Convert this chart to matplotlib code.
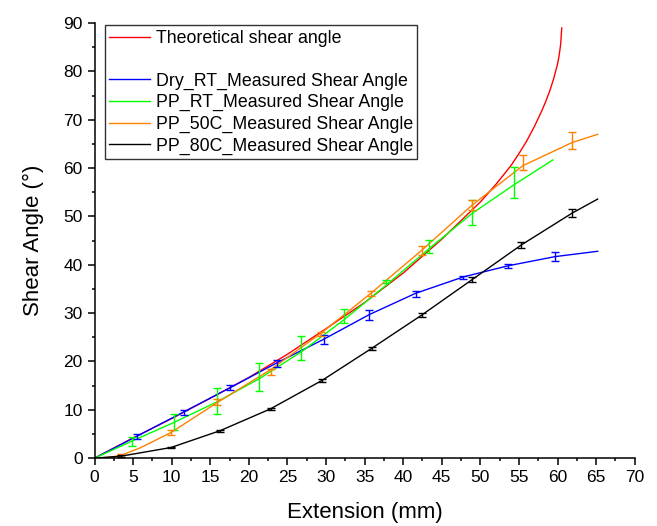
import matplotlib

matplotlib.use("Agg")
import matplotlib.pyplot as plt
from matplotlib.lines import Line2D
from matplotlib.ticker import MultipleLocator

plt.rcParams["font.family"] = ["Liberation Sans", "DejaVu Sans"]

# theoretical shear angle (red)
theo_x = [0, 5, 10, 15, 20, 25, 30, 35, 40, 45, 50, 52, 54, 55, 56, 57, 58, 58.5, 59, 59.5, 60, 60.2, 60.4, 60.55]
theo_y = [0, 4.2, 8.2, 12.4, 16.7, 21.5, 26.8, 32.2, 38.3, 45.3, 53.0, 56.6, 60.6, 63.0, 65.6, 68.6, 72.0, 73.9, 76.0, 78.5, 81.5, 83.2, 85.5, 89.0]

# Dry_RT (blue)
dry_x = [0, 5.5, 11.6, 17.6, 23.6, 29.7, 35.6, 41.6, 47.8, 53.6, 59.7, 65.2]
dry_y = [0, 4.55, 9.6, 14.6, 19.7, 24.6, 29.7, 34.1, 37.5, 39.8, 41.7, 42.8]
dry_ex = [5.5, 11.6, 17.6, 23.6, 29.7, 35.6, 41.6, 47.8, 53.6, 59.7]
dry_ey = [4.55, 9.4, 14.6, 19.6, 24.6, 29.6, 34.0, 37.4, 39.8, 41.7]
dry_err = [0.5, 0.5, 0.6, 0.7, 0.9, 1.0, 0.6, 0.3, 0.4, 1.0]

# PP_RT (green)
rt_x = [0, 4.8, 10.3, 15.8, 21.3, 26.8, 32.3, 37.8, 43.4, 48.9, 54.4, 59.4]
rt_y = [0, 3.5, 7.4, 11.6, 16.4, 22.0, 28.6, 35.8, 43.4, 50.6, 56.6, 61.7]
rt_ex = [4.8, 10.3, 15.8, 21.3, 26.8, 32.3, 37.8, 43.4, 48.9, 54.4]
rt_ey = [3.4, 7.5, 11.8, 16.8, 22.8, 29.4, 36.5, 43.8, 50.8, 57.0]
rt_err = [0.9, 1.7, 2.7, 2.9, 2.4, 1.5, 0.3, 1.4, 2.6, 3.2]

# PP_50C (orange)
c50_x = [0, 2.0, 3.4, 6.0, 9.9, 15.9, 22.8, 29.3, 35.8, 42.4, 48.9, 55.5, 61.9, 65.2]
c50_y = [0, 0.2, 0.55, 2.2, 5.3, 11.5, 18.3, 25.8, 34.1, 43.0, 52.3, 60.5, 65.3, 67.0]
c50_ex = [3.4, 9.9, 15.9, 22.8, 29.3, 35.8, 42.4, 48.9, 55.5, 61.9]
c50_ey = [0.55, 5.3, 11.6, 17.8, 25.7, 34.0, 43.0, 52.4, 61.2, 65.7]
c50_err = [0.3, 0.5, 0.6, 0.6, 0.5, 0.5, 0.9, 1.0, 1.5, 1.7]

# PP_80C (black)
c80_x = [0, 3.4, 9.9, 16.3, 22.8, 29.5, 35.9, 42.4, 48.9, 55.3, 61.9, 65.2]
c80_y = [0, 0.4, 2.2, 5.7, 10.2, 16.1, 22.7, 29.6, 36.9, 44.1, 50.7, 53.6]
c80_err = [0.2, 0.2, 0.2, 0.2, 0.3, 0.3, 0.4, 0.5, 0.7, 0.85]

fig = plt.figure(figsize=(6.57, 5.26), dpi=100)
ax = fig.add_axes([0.144, 0.129, 0.822, 0.827])

lw = 1.0
h_theo, = ax.plot(theo_x, theo_y, color="#ff0000", lw=lw, label="Theoretical shear angle")
h_dry, = ax.plot(dry_x, dry_y, color="#0000ff", lw=lw, label="Dry_RT_Measured Shear Angle")
h_rt, = ax.plot(rt_x, rt_y, color="#00ff00", lw=lw, label="PP_RT_Measured Shear Angle")
h_50, = ax.plot(c50_x, c50_y, color="#ff8000", lw=lw, label="PP_50C_Measured Shear Angle")
h_80, = ax.plot(c80_x, c80_y, color="black", lw=lw, label="PP_80C_Measured Shear Angle")

eb = dict(fmt="none", elinewidth=1.0, capsize=3, capthick=1.0)
ax.errorbar(dry_ex, dry_ey, yerr=dry_err, ecolor="#0000ff", **eb)
ax.errorbar(rt_ex, rt_ey, yerr=rt_err, ecolor="#00ff00", **eb)
ax.errorbar(c50_ex, c50_ey, yerr=c50_err, ecolor="#ff8000", **eb)
ax.errorbar(c80_x[1:11], c80_y[1:11], yerr=c80_err, ecolor="black", **eb)

ax.set_xlim(0, 70)
ax.set_ylim(0, 90)
ax.xaxis.set_major_locator(MultipleLocator(5))
ax.xaxis.set_minor_locator(MultipleLocator(2.5))
ax.yaxis.set_major_locator(MultipleLocator(10))
ax.yaxis.set_minor_locator(MultipleLocator(5))
ax.spines["top"].set_visible(False)
ax.spines["right"].set_visible(False)
for s in ("left", "bottom"):
    ax.spines[s].set_linewidth(1.1)
ax.tick_params(which="major", direction="out", length=5, width=1.1, labelsize=12.5)
ax.tick_params(which="minor", direction="out", length=2.5, width=1.1)

ax.set_xlabel("Extension (mm)", fontsize=16, labelpad=12)
ax.set_ylabel("Shear Angle (°)", fontsize=16, labelpad=14)

blank = Line2D([], [], color="none", label=" ")
leg = ax.legend(handles=[h_theo, blank, h_dry, h_rt, h_50, h_80],
                loc="upper left", bbox_to_anchor=(0.019, 0.995), borderaxespad=0,
                fontsize=12.8, frameon=True, fancybox=False, edgecolor="black",
                handlelength=2.3, handletextpad=0.3, labelspacing=0.25, borderpad=0.25)
leg.get_frame().set_linewidth(1.0)

fig.savefig("out.png", dpi=100)
